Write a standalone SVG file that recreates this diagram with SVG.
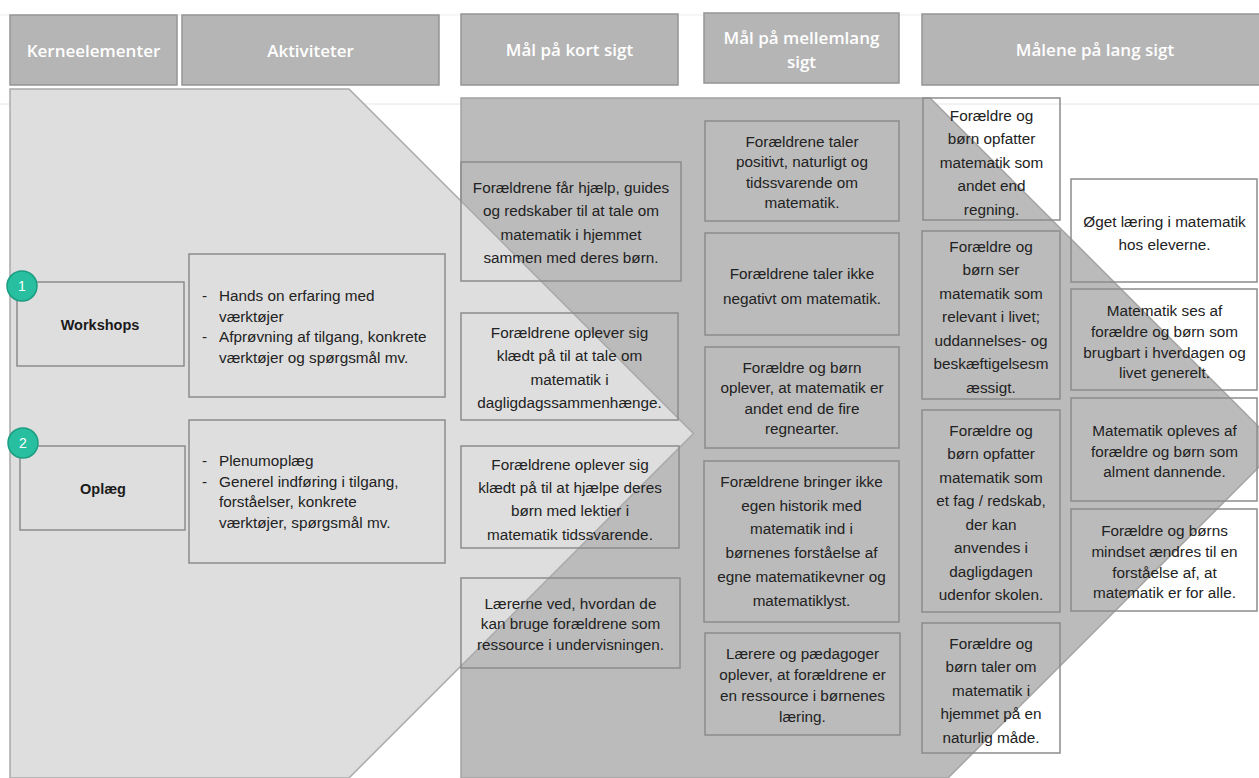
<svg xmlns="http://www.w3.org/2000/svg" width="1259" height="778" viewBox="0 0 1259 778">
<style>
.hdr{fill:#b5b5b5;stroke:#959595;stroke-width:1.5}
.ht{font-family:"Open Sans","Liberation Sans",sans-serif;font-weight:600;font-size:17px;fill:#ffffff;text-anchor:middle}
.box{fill:none;stroke:#8c8c8c;stroke-width:1.5}
.t{font-family:"Liberation Sans",Arial,sans-serif;font-size:15.3px;fill:#222222;text-anchor:middle}
.tl{font-family:"Liberation Sans",Arial,sans-serif;font-size:15.3px;fill:#222222}
.tb{font-family:"Liberation Sans",Arial,sans-serif;font-size:14.5px;font-weight:bold;fill:#1a1a1a;text-anchor:middle}
.circ{fill:#27bf9f;stroke:#1c9c80;stroke-width:1.5}
.ct{font-family:"Liberation Sans",Arial,sans-serif;font-size:14px;fill:#ffffff;text-anchor:middle}
</style>
<rect x="0" y="0" width="1259" height="778" fill="#ffffff"/>
<g id="background">
<line x1="0" y1="15" x2="1259" y2="15" stroke="#ededed" stroke-width="1"/>
<line x1="0" y1="104" x2="1259" y2="104" stroke="#e6e6e6" stroke-width="1"/>
<polygon points="461,98 930,98 1279,447 948,778 461,778" fill="#bbbbbb" stroke="#a3a3a3" stroke-width="1.5"/>
<polygon points="10,89 349,89 693.5,433.5 349,778 10,778" fill="#dedede" stroke="#a9a9a9" stroke-width="1.5"/>
</g>
<g id="h-kerne"><rect class="hdr" x="10" y="15" width="167" height="70"/><text class="ht" x="93.5" y="57">Kerneelementer</text></g>
<g id="h-akt"><rect class="hdr" x="182" y="15" width="257" height="70"/><text class="ht" x="310.5" y="57">Aktiviteter</text></g>
<g id="h-kort"><rect class="hdr" x="461" y="14" width="217" height="71"/><text class="ht" x="569.5" y="56">Mål på kort sigt</text></g>
<g id="h-mellem"><rect class="hdr" x="704" y="13" width="195" height="70"/><text class="ht" x="801.5" y="44">Mål på mellemlang</text><text class="ht" x="801.5" y="68">sigt</text></g>
<g id="h-lang"><rect class="hdr" x="922" y="14" width="346" height="71"/><text class="ht" x="1095" y="56">Målene på lang sigt</text></g>

<g id="workshops"><rect class="box" x="17" y="282" width="167" height="84"/><text class="tb" x="100" y="330">Workshops</text>
<circle class="circ" cx="22" cy="286" r="15"/><text class="ct" x="22" y="291">1</text></g>
<g id="oplaeg"><rect class="box" x="20" y="446" width="165" height="84"/><text class="tb" x="103" y="494">Oplæg</text>
<circle class="circ" cx="23" cy="443" r="15"/><text class="ct" x="23" y="448">2</text></g>

<g id="akt-1"><rect class="box" x="189" y="254" width="256" height="143"/>
<text class="tl" x="202" y="301">-</text><text class="tl" x="219" y="301">Hands on erfaring med</text>
<text class="tl" x="219" y="321.5">værktøjer</text>
<text class="tl" x="202" y="342">-</text><text class="tl" x="219" y="342">Afprøvning af tilgang, konkrete</text>
<text class="tl" x="219" y="362.5">værktøjer og spørgsmål mv.</text></g>
<g id="akt-2"><rect class="box" x="189" y="420" width="256" height="143"/>
<text class="tl" x="202" y="466">-</text><text class="tl" x="219" y="466">Plenumoplæg</text>
<text class="tl" x="202" y="486.5">-</text><text class="tl" x="219" y="486.5">Generel indføring i tilgang,</text>
<text class="tl" x="219" y="507">forståelser, konkrete</text>
<text class="tl" x="219" y="527.5">værktøjer, spørgsmål mv.</text></g>

<g id="kort-1"><rect class="box" x="461" y="162" width="220" height="119"/>
<text class="t" x="571" y="192.5">Forældrene får hjælp, guides</text>
<text class="t" x="571" y="216">og redskaber til at tale om</text>
<text class="t" x="571" y="239.5">matematik i hjemmet</text>
<text class="t" x="571" y="263">sammen med deres børn.</text></g>
<g id="kort-2"><rect class="box" x="461" y="313" width="217" height="107"/>
<text class="t" x="569.5" y="337.5">Forældrene oplever sig</text>
<text class="t" x="569.5" y="361">klædt på til at tale om</text>
<text class="t" x="569.5" y="384.5">matematik i</text>
<text class="t" x="569.5" y="408">dagligdagssammenhænge.</text></g>
<g id="kort-3"><rect class="box" x="461" y="446" width="218" height="102"/>
<text class="t" x="570" y="469.5">Forældrene oplever sig</text>
<text class="t" x="570" y="492.5">klædt på til at hjælpe deres</text>
<text class="t" x="570" y="516">børn med lektier i</text>
<text class="t" x="570" y="539.5">matematik tidssvarende.</text></g>
<g id="kort-4"><rect class="box" x="461" y="578" width="219" height="90"/>
<text class="t" x="570.5" y="608.5">Lærerne ved, hvordan de</text>
<text class="t" x="570.5" y="629">kan bruge forældrene som</text>
<text class="t" x="570.5" y="649.5">ressource i undervisningen.</text></g>

<g id="mellem-1"><rect class="box" x="705" y="121" width="194" height="100"/>
<text class="t" x="802" y="146.5">Forældrene taler</text>
<text class="t" x="802" y="167">positivt, naturligt og</text>
<text class="t" x="802" y="187.5">tidssvarende om</text>
<text class="t" x="802" y="208">matematik.</text></g>
<g id="mellem-2"><rect class="box" x="705" y="233" width="194" height="102"/>
<text class="t" x="802" y="278.5">Forældrene taler ikke</text>
<text class="t" x="802" y="303.5">negativt om matematik.</text></g>
<g id="mellem-3"><rect class="box" x="705" y="347" width="194" height="101"/>
<text class="t" x="802" y="372.5">Forældre og børn</text>
<text class="t" x="802" y="393">oplever, at matematik er</text>
<text class="t" x="802" y="413.5">andet end de fire</text>
<text class="t" x="802" y="434">regnearter.</text></g>
<g id="mellem-4"><rect class="box" x="704" y="461" width="195" height="161"/>
<text class="t" x="801.5" y="486.5">Forældrene bringer ikke</text>
<text class="t" x="801.5" y="510.5">egen historik med</text>
<text class="t" x="801.5" y="534">matematik ind i</text>
<text class="t" x="801.5" y="558">børnenes forståelse af</text>
<text class="t" x="801.5" y="581.5">egne matematikevner og</text>
<text class="t" x="801.5" y="605.5">matematiklyst.</text></g>
<g id="mellem-5"><rect class="box" x="705" y="633" width="195" height="102"/>
<text class="t" x="802.5" y="658.5">Lærere og pædagoger</text>
<text class="t" x="802.5" y="679.5">oplever, at forældrene er</text>
<text class="t" x="802.5" y="700.5">en ressource i børnenes</text>
<text class="t" x="802.5" y="721.5">læring.</text></g>

<g id="lang-1"><rect class="box" x="923" y="98" width="137" height="122"/>
<text class="t" x="991.5" y="120.5">Forældre og</text>
<text class="t" x="991.5" y="144">børn opfatter</text>
<text class="t" x="991.5" y="167.5">matematik som</text>
<text class="t" x="991.5" y="191">andet end</text>
<text class="t" x="991.5" y="214.5">regning.</text></g>
<g id="lang-2"><rect class="box" x="922" y="231" width="138" height="168"/>
<text class="t" x="991" y="251.5">Forældre og</text>
<text class="t" x="991" y="275">børn ser</text>
<text class="t" x="991" y="298.5">matematik som</text>
<text class="t" x="991" y="322">relevant i livet;</text>
<text class="t" x="991" y="345.5">uddannelses- og</text>
<text class="t" x="991" y="369">beskæftigelsesm</text>
<text class="t" x="991" y="392.5">æssigt.</text></g>
<g id="lang-3"><rect class="box" x="922" y="410" width="138" height="202"/>
<text class="t" x="991" y="435.5">Forældre og</text>
<text class="t" x="991" y="459">børn opfatter</text>
<text class="t" x="991" y="482.5">matematik som</text>
<text class="t" x="991" y="506">et fag / redskab,</text>
<text class="t" x="991" y="529.5">der kan</text>
<text class="t" x="991" y="553">anvendes i</text>
<text class="t" x="991" y="576.5">dagligdagen</text>
<text class="t" x="991" y="600">udenfor skolen.</text></g>
<g id="lang-4"><rect class="box" x="922" y="623" width="138" height="130"/>
<text class="t" x="991" y="648.5">Forældre og</text>
<text class="t" x="991" y="672">børn taler om</text>
<text class="t" x="991" y="695.5">matematik i</text>
<text class="t" x="991" y="719">hjemmet på en</text>
<text class="t" x="991" y="742.5">naturlig måde.</text></g>

<g id="lang-5"><rect class="box" x="1071" y="179" width="186" height="103"/>
<text class="t" x="1164.5" y="226.5">Øget læring i matematik</text>
<text class="t" x="1164.5" y="250">hos eleverne.</text></g>
<g id="lang-6"><rect class="box" x="1071" y="289" width="186" height="101"/>
<text class="t" x="1164.5" y="315.5">Matematik ses af</text>
<text class="t" x="1164.5" y="336.5">forældre og børn som</text>
<text class="t" x="1164.5" y="357.5">brugbart i hverdagen og</text>
<text class="t" x="1164.5" y="378">livet generelt.</text></g>
<g id="lang-7"><rect class="box" x="1071" y="398" width="186" height="103"/>
<text class="t" x="1164.5" y="435.5">Matematik opleves af</text>
<text class="t" x="1164.5" y="456.5">forældre og børn som</text>
<text class="t" x="1164.5" y="477">alment dannende.</text></g>
<g id="lang-8"><rect class="box" x="1071" y="509" width="186" height="102"/>
<text class="t" x="1164.5" y="535.5">Forældre og børns</text>
<text class="t" x="1164.5" y="556.5">mindset ændres til en</text>
<text class="t" x="1164.5" y="577.5">forståelse af, at</text>
<text class="t" x="1164.5" y="598">matematik er for alle.</text></g>
</svg>
